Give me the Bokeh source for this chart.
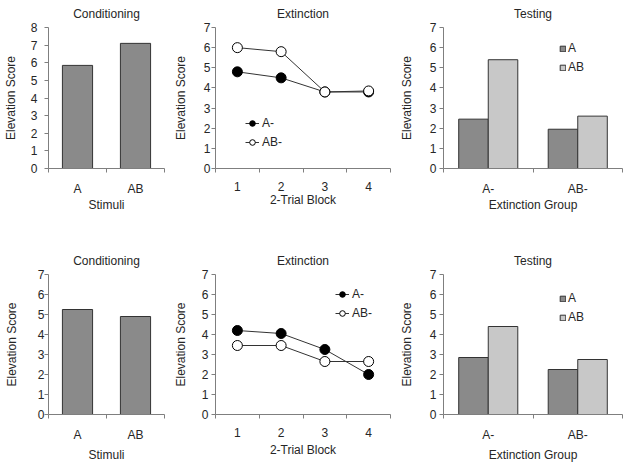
from bokeh.plotting import figure
from bokeh.layouts import column, row
from bokeh.models import FixedTicker, Legend, LegendItem, Range1d
from bokeh.embed import file_html
from bokeh.resources import INLINE

FONT = "Liberation Sans"
TXT = "#262626"
AXC = "#7f7f7f"
DARK = "#8a8a8a"
LIGHT = "#c8c8c8"
EDGE = "#333333"

# ---- data ----
stimuli = ["A", "AB"]
cond_top = [5.85, 7.1]
cond_bot = [5.25, 4.9]

blocks = ["1", "2", "3", "4"]
ext_top_A = [4.8, 4.5, 3.8, 3.8]
ext_top_AB = [6.0, 5.8, 3.8, 3.85]
ext_bot_A = [4.2, 4.05, 3.25, 2.0]
ext_bot_AB = [3.45, 3.45, 2.65, 2.65]

groups = ["A-", "AB-"]
test_top_A = [2.45, 1.95]
test_top_AB = [5.4, 2.6]
test_bot_A = [2.85, 2.25]
test_bot_AB = [4.4, 2.75]

ymax_top = [8, 7, 7]
ymax_bot = [7, 7, 7]


def make(title, cats, ymax, xlabel, width, height, left, right, top, bottom,
         tick_sd, lab_sd, xlab_sd, toff):
    p = figure(width=width, height=height, output_backend="svg", toolbar_location=None,
               min_border_left=left, min_border_right=right, min_border_top=top,
               min_border_bottom=bottom, x_range=Range1d(0, len(cats)),
               y_range=Range1d(0, ymax))
    p.title.text = title
    p.title.align = "center"
    p.title.vertical_align = "top"
    p.title.offset = toff
    p.title.text_font = FONT
    p.title.text_font_size = "12px"
    p.title.text_font_style = "normal"
    p.title.text_color = TXT
    p.title.standoff = 10
    p.outline_line_color = None
    p.xgrid.visible = False
    p.ygrid.visible = False
    centers = [i + 0.5 for i in range(len(cats))]
    p.xaxis.ticker = FixedTicker(ticks=centers, minor_ticks=list(range(len(cats) + 1)))
    p.xaxis.major_label_overrides = {c: lab for c, lab in zip(centers, cats)}
    p.xaxis.major_tick_out = 0
    p.xaxis.major_tick_in = 0
    p.xaxis.minor_tick_out = 4
    p.xaxis.minor_tick_in = 0
    p.xaxis.major_label_standoff = 9
    p.xaxis.axis_label = xlabel
    p.xaxis.axis_label_standoff = xlab_sd
    p.yaxis.ticker = FixedTicker(ticks=list(range(ymax + 1)))
    p.yaxis.minor_tick_out = 0
    p.yaxis.minor_tick_in = 0
    p.yaxis.major_tick_out = 4
    p.yaxis.major_tick_in = 0
    p.yaxis.major_label_standoff = tick_sd
    p.yaxis.axis_label = "Elevation Score"
    p.yaxis.axis_label_standoff = lab_sd
    for ax in (p.xaxis, p.yaxis):
        ax.axis_line_color = AXC
        ax.major_tick_line_color = AXC
        ax.minor_tick_line_color = AXC
        ax.major_label_text_font = FONT
        ax.major_label_text_font_size = "12px"
        ax.major_label_text_color = TXT
        ax.axis_label_text_font = FONT
        ax.axis_label_text_font_size = "12px"
        ax.axis_label_text_font_style = "normal"
        ax.axis_label_text_color = TXT
    return p, centers


def cond_panel(vals, ymax, height, top, bottom, tick_sd, lab_sd, xlab_sd):
    p, c = make("Conditioning", stimuli, ymax, "Stimuli", 170, height, 48, 6, top, bottom,
                tick_sd, lab_sd, xlab_sd, -3)
    p.vbar(x=c, top=vals, width=0.52, fill_color=DARK, line_color=EDGE, line_width=1)
    return p


def ext_panel(a, ab, height, top, bottom, tick_sd, lab_sd, xlab_sd, loc):
    p, c = make("Extinction", blocks, 7, "2-Trial Block", 226, height, 45, 6, top, bottom,
                tick_sd, lab_sd, xlab_sd, 4)
    la = p.line(c, a, line_color=EDGE, line_width=1)
    sa = p.scatter(c, a, size=10, fill_color="black", line_color="black")
    lb = p.line(c, ab, line_color=EDGE, line_width=1)
    sb = p.scatter(c, ab, size=10, fill_color="white", line_color="black")
    lg = Legend(items=[LegendItem(label="A-", renderers=[la, sa]),
                       LegendItem(label="AB-", renderers=[lb, sb])],
                location=loc, glyph_width=14, glyph_height=14, label_height=14,
                spacing=5, padding=0, margin=0, border_line_color=None,
                background_fill_alpha=0, label_standoff=3,
                label_text_font=FONT, label_text_font_size="12px", label_text_color=TXT)
    p.add_layout(lg)
    return p


def test_panel(a, ab, height, top, bottom, tick_sd, lab_sd, xlab_sd, loc):
    p, c = make("Testing", groups, 7, "Extinction Group", 230, height, 47, 4, top, bottom,
                tick_sd, lab_sd, xlab_sd, -5)
    ra = p.vbar(x=[v - 0.165 for v in c], top=a, width=0.33, fill_color=DARK,
                line_color=EDGE, line_width=1)
    rb = p.vbar(x=[v + 0.165 for v in c], top=ab, width=0.33, fill_color=LIGHT,
                line_color=EDGE, line_width=1)
    lg = Legend(items=[LegendItem(label="A", renderers=[ra]),
                       LegendItem(label="AB", renderers=[rb])],
                location=loc, glyph_width=7, glyph_height=7, label_height=14,
                spacing=5, padding=0, margin=0, border_line_color=None,
                background_fill_alpha=0, label_standoff=2,
                label_text_font=FONT, label_text_font_size="12px", label_text_color=TXT)
    p.add_layout(lg)
    return p


p1 = cond_panel(cond_top, ymax_top[0], 248, 27, 80, 7, 10, -1)
p2 = ext_panel(ext_top_A, ext_top_AB, 248, 27, 80, 1, 13, -1, (30, 19))
p3 = test_panel(test_top_A, test_top_AB, 248, 27, 80, 3, 13, -1, (116, 94))
p4 = cond_panel(cond_bot, ymax_bot[0], 216, 26, 50, 0, 16, 3)
p5 = ext_panel(ext_bot_A, ext_bot_AB, 216, 26, 50, 3, 11, 3, (120, 94))
p6 = test_panel(test_bot_A, test_bot_AB, 216, 26, 50, 3, 13, 3, (116, 90))

layout = column(row(p1, p2, p3), row(p4, p5, p6))
open("out.html", "w").write(file_html(layout, INLINE))
